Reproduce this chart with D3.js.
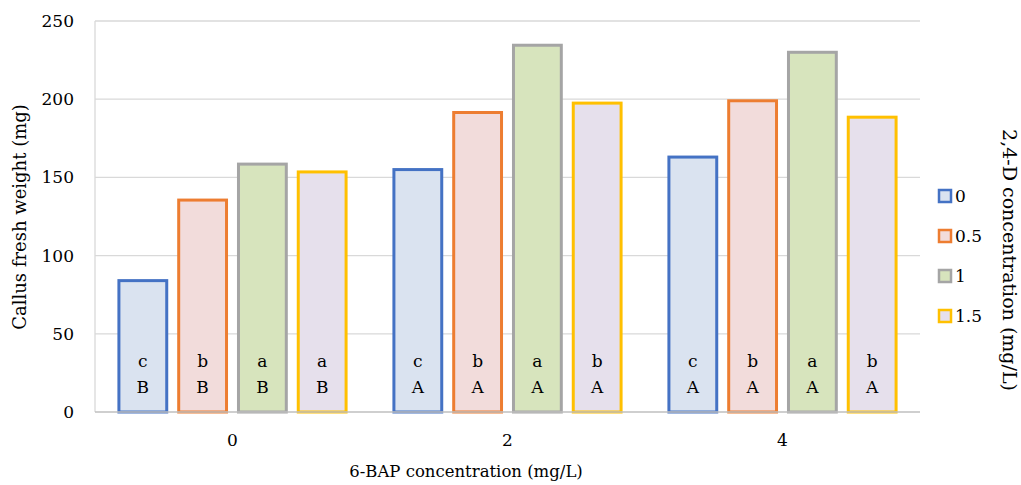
<!DOCTYPE html>
<html><head><meta charset="utf-8">
<script src="https://cdn.jsdelivr.net/npm/d3@7"></script>
<style>body{margin:0;background:#fff}svg{display:block}text{font-family:"DejaVu Serif",serif;fill:#000}</style>
</head><body>
<svg id="c" width="1021" height="485"></svg>
<script>
const categories = ["0", "2", "4"];
const seriesNames = ["0", "0.5", "1", "1.5"];
const values0 = [84, 155, 163];
const values05 = [135.5, 191.5, 199];
const values1 = [158.5, 234.5, 230];
const values15 = [153.5, 197.5, 188.5];
const lowerLetters = [["c","b","a","a"],["c","b","a","b"],["c","b","a","b"]];
const upperLetters = [["B","B","B","B"],["A","A","A","A"],["A","A","A","A"]];
const yTicks = [0, 50, 100, 150, 200, 250];
const strokes = ["#4472C4", "#ED7D31", "#A5A5A5", "#FFC000"];
const fills = ["#DAE3F0", "#F2DCDB", "#D7E4BD", "#E6E0EC"];

const series = [values0, values05, values1, values15];
const svg = d3.select("#c");
const m = {l: 95, r: 920, t: 21, b: 412};
const FS = 16.5;
const x = d3.scaleBand().domain(categories).range([m.l, m.r]).paddingInner(0).paddingOuter(0);
const x1 = d3.scaleBand().domain(seriesNames).range([0, x.bandwidth()]).paddingInner(0.2).paddingOuter(0.4);
const y = d3.scaleLinear().domain([0, 250]).range([m.b, m.t]);

svg.append("g").selectAll("line").data(yTicks.slice(1)).join("line")
  .attr("x1", m.l).attr("x2", m.r).attr("y1", d => y(d)).attr("y2", d => y(d))
  .attr("stroke", "#D9D9D9").attr("stroke-width", 1.3);

svg.append("g").selectAll("text").data(yTicks).join("text")
  .attr("x", 74).attr("y", d => y(d)).attr("dy", "0.35em").attr("text-anchor", "end")
  .attr("font-size", 17).text(d => d);

svg.append("line").attr("x1", m.l).attr("x2", m.l).attr("y1", m.t).attr("y2", m.b)
  .attr("stroke", "#D9D9D9").attr("stroke-width", 1.3);

const groups = svg.append("g").selectAll("g").data(categories).join("g")
  .attr("transform", c => `translate(${x(c)},0)`);
groups.each(function(c, ci) {
  const g = d3.select(this);
  seriesNames.forEach((s, si) => {
    const v = series[si][ci];
    const bx = x1(s), bw = x1.bandwidth();
    g.append("rect").attr("x", bx).attr("y", y(v)).attr("width", bw).attr("height", y(0) - y(v))
      .attr("fill", fills[si]).attr("stroke", strokes[si]).attr("stroke-width", 3);
    g.append("text").attr("x", bx + bw / 2).attr("y", 367).attr("text-anchor", "middle")
      .attr("font-size", 17).text(lowerLetters[ci][si]);
    g.append("text").attr("x", bx + bw / 2).attr("y", 393).attr("text-anchor", "middle")
      .attr("font-size", 17).text(upperLetters[ci][si]);
  });
});

svg.append("line").attr("x1", m.l).attr("x2", m.r).attr("y1", m.b).attr("y2", m.b)
  .attr("stroke", "#BFBFBF").attr("stroke-width", 1.3);

svg.append("g").selectAll("text").data(categories).join("text")
  .attr("x", c => x(c) + x.bandwidth() / 2).attr("y", 446).attr("text-anchor", "middle")
  .attr("font-size", 17).text(c => c);

svg.append("text").attr("x", 466).attr("y", 477).attr("text-anchor", "middle")
  .attr("font-size", FS).text("6-BAP concentration (mg/L)");
svg.append("text").attr("transform", "translate(26,217) rotate(-90)")
  .attr("text-anchor", "middle").attr("font-size", 18).text("Callus fresh weight (mg)");
svg.append("text").attr("transform", "translate(1003,260) rotate(90)")
  .attr("text-anchor", "middle").attr("font-size", 19).text("2,4-D concentration (mg/L)");

const lg = svg.append("g").selectAll("g").data(seriesNames).join("g")
  .attr("transform", (d, i) => `translate(939,${190 + i * 40})`);
lg.append("rect").attr("width", 12).attr("height", 12)
  .attr("fill", (d, i) => fills[i]).attr("stroke", (d, i) => strokes[i]).attr("stroke-width", 2.5);
lg.append("text").attr("x", 16).attr("y", 6).attr("dy", "0.35em").attr("font-size", 17).text(d => d);
</script>
</body></html>
